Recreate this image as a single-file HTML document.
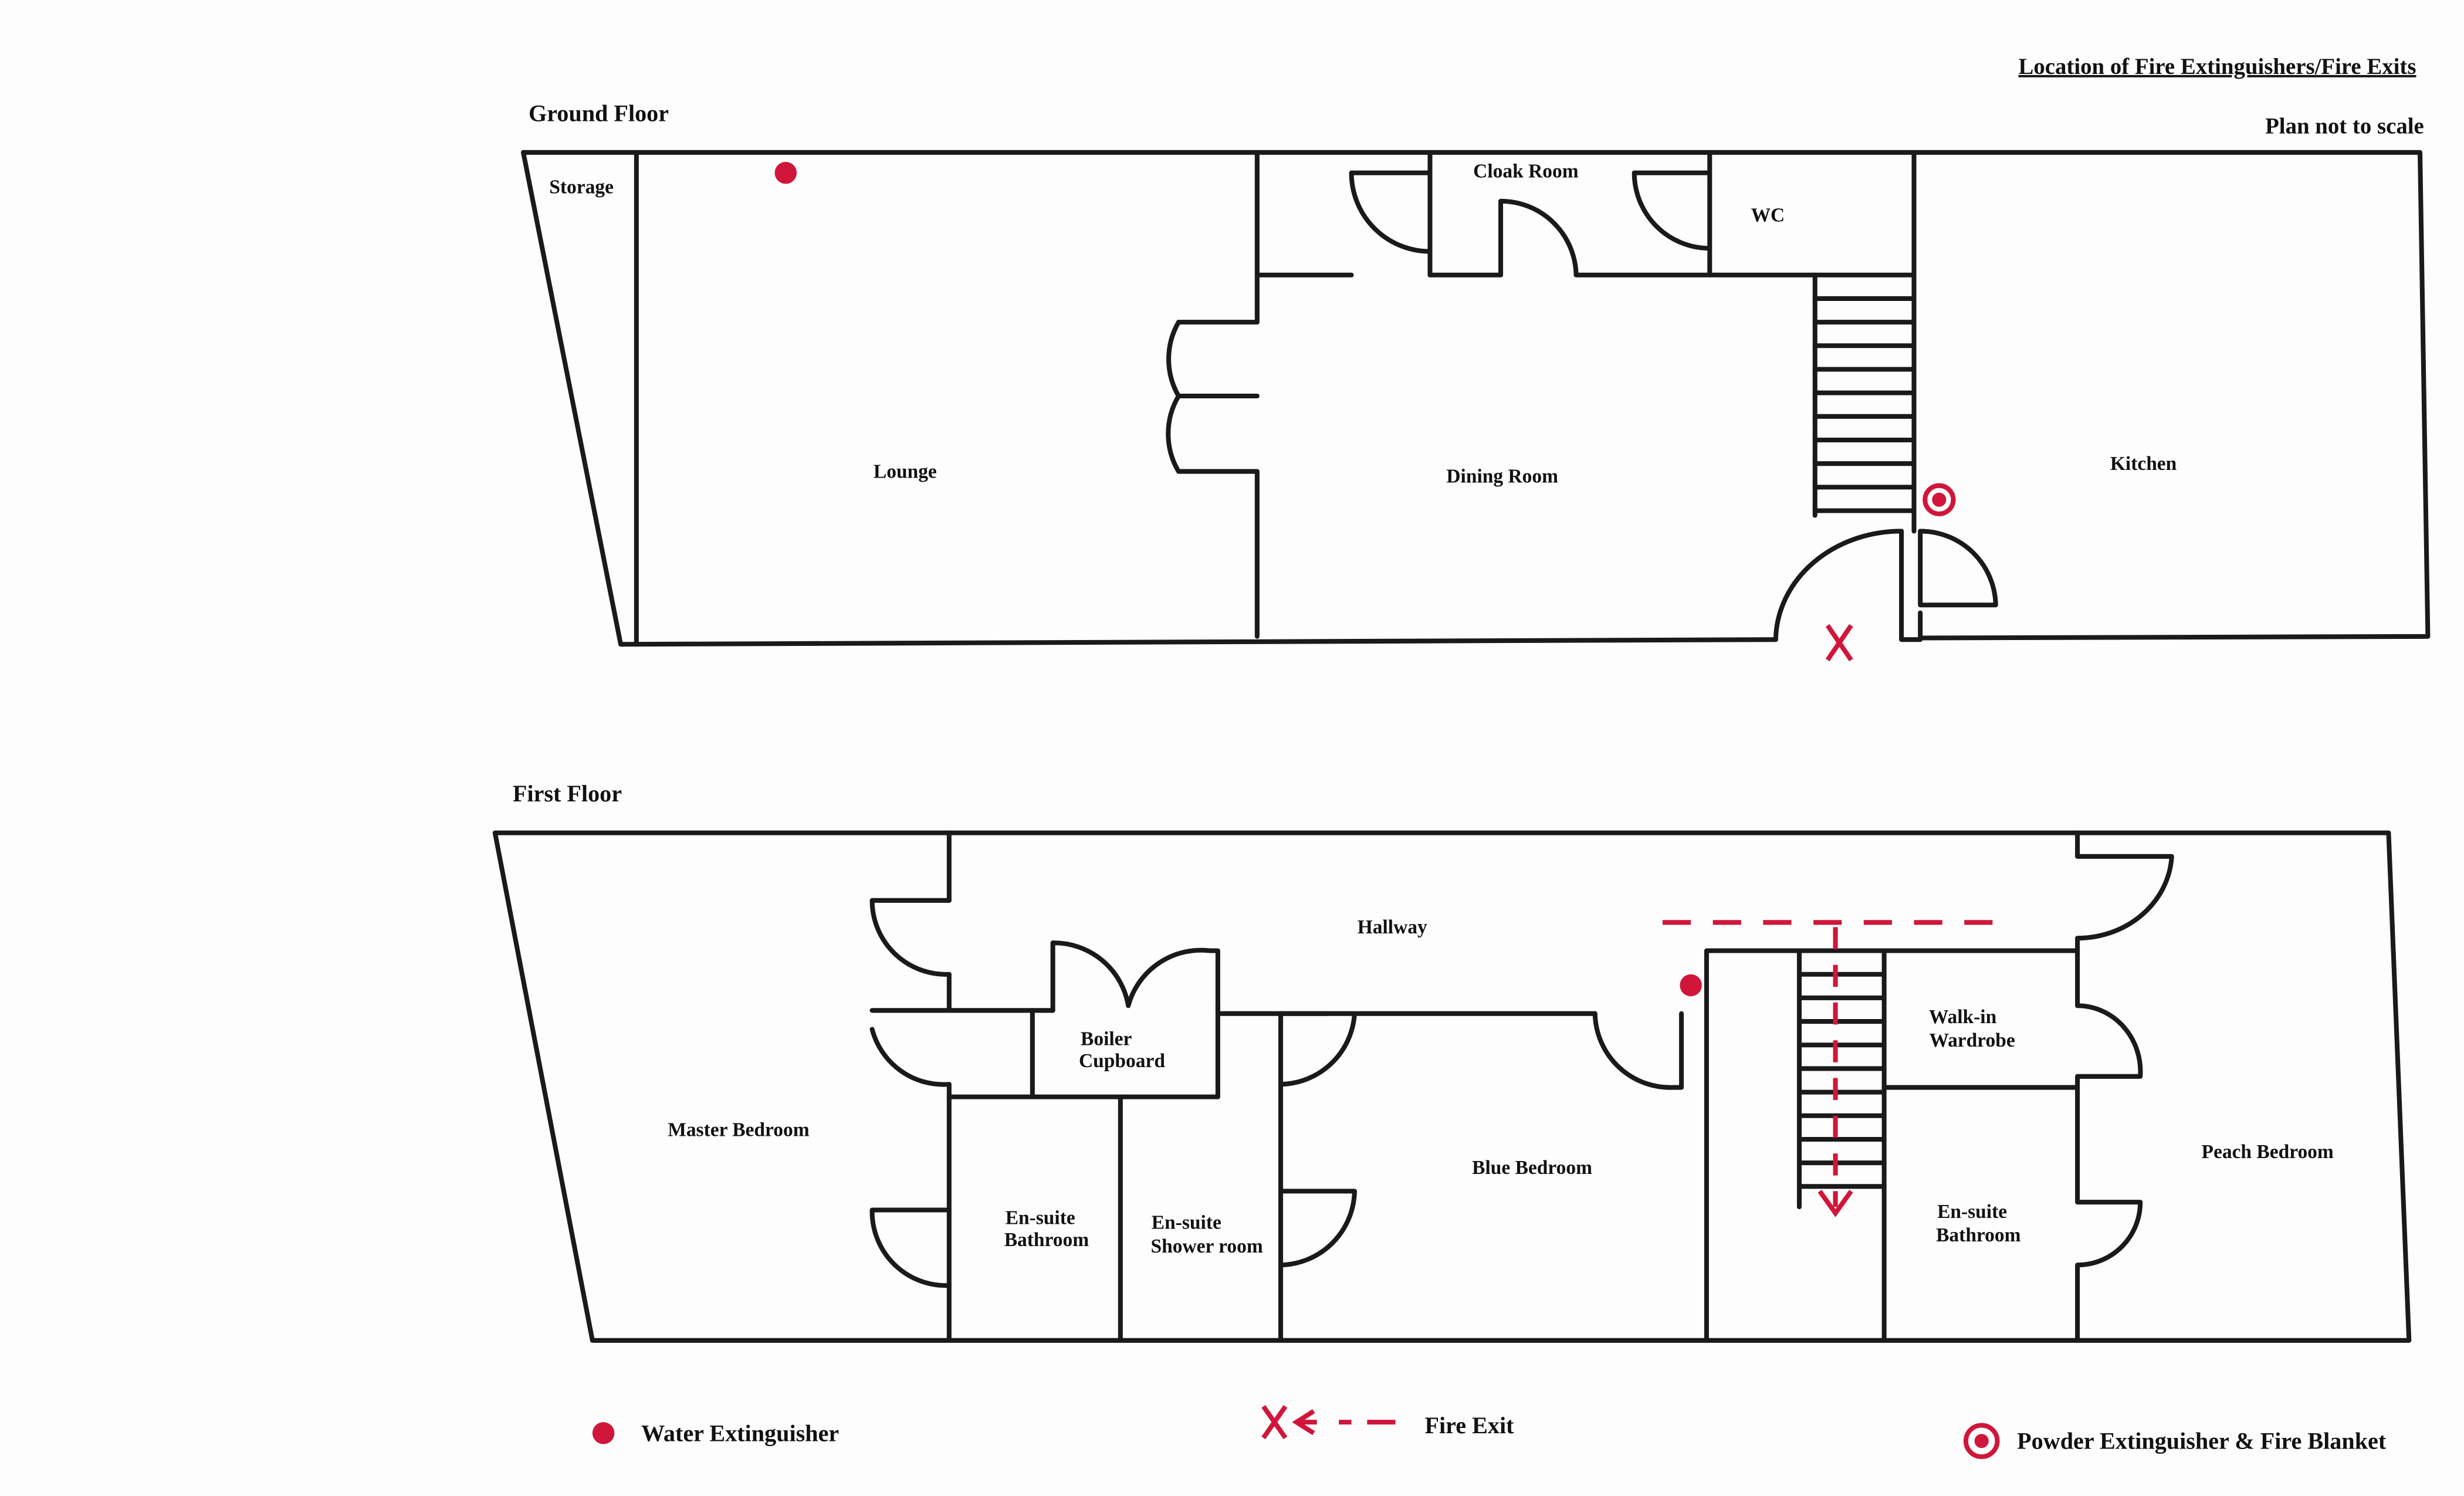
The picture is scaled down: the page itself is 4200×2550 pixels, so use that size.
<!DOCTYPE html>
<html><head><style>html,body{margin:0;padding:0;background:#fff}svg{display:block}</style></head>
<body>
<svg width="4200" height="2550" viewBox="0 0 1568 952" xmlns="http://www.w3.org/2000/svg">
<rect width="1568" height="952" fill="#fdfdfd"/>
<g fill="none" stroke="#1a1a1a" stroke-width="3" stroke-linecap="round" stroke-linejoin="round">
<!-- Ground floor -->
<path d="M333,97 L1540,97 L1545,405 L1222,406 L1222,390"/>
<path d="M333,97 L395,410 L1130,407"/>
<path d="M405,97 L405,410"/>
<path d="M800,97 L800,205 M800,300 L800,405"/>
<path d="M800,205 L750,205 M800,252 L750,252 M800,300 L750,300"/>
<path d="M750,205 A47,47 0 0 0 750,252 M750,252 A47,47 0 0 0 750,300"/>
<path d="M800,175 L860,175 M910,175 L955,175 M1003,175 L1218,175"/>
<path d="M910,97 L910,175 M860,110 L910,110 M860,110 A50,50 0 0 0 910,160"/>
<path d="M955,128 L955,175 M955,128 A48,48 0 0 1 1003,175"/>
<path d="M1088,97 L1088,175 M1040,110 L1088,110 M1040,110 A48,48 0 0 0 1088,158"/>
<path d="M1218,97 L1218,175"/>
<!-- stairs -->
<path d="M1155,175 L1155,328 M1218,175 L1218,338"/>
<path d="M1155,190 L1218,190 M1155,205 L1218,205 M1155,220 L1218,220 M1155,235 L1218,235 M1155,250 L1218,250 M1155,265 L1218,265 M1155,280 L1218,280 M1155,295 L1218,295 M1155,310 L1218,310 M1155,325 L1218,325"/>
<path d="M1130,407 A80,70 0 0 1 1210,338 L1210,407 L1222,407"/>
<path d="M1222,338 L1222,385 M1222,338 A48,48 0 0 1 1270,385 L1222,385"/>
<!-- First floor -->
<path d="M315,530 L1520,530 L1533,853 L377,853 Z"/>
<path d="M604,530 L604,573 M604,620 L604,643 M604,690 L604,853"/>
<path d="M604,573 L555,573 L555,573 A47,47 0 0 0 604,620"/>
<path d="M604,643 L555,643 M555,655 A47,47 0 0 0 604,690"/>
<path d="M604,643 L670,643 M604,698 L775,698 M775,645 L845,645"/>
<path d="M657,643 L657,698 M775,640 L775,698 M713,698 L713,853"/>
<path d="M670,643 L670,600 A48,48 0 0 1 718,640 M718,640 A48,48 0 0 1 770,605 L775,605 L775,643 M670,600 L670,643"/>
<path d="M815,698 L815,853 M815,645 L815,698 M815,690 A48,48 0 0 0 862,645 L815,645 M845,645 L1015,645"/>
<path d="M815,758 L862,758 A48,48 0 0 1 815,805"/>
<path d="M604,770 L555,770 A47,47 0 0 0 604,818"/>
<path d="M1015,645 A48,48 0 0 0 1065,692 L1070,692 L1070,645"/>
<path d="M1086,605 L1086,853 M1086,605 L1322,605"/>
<path d="M1145,605 L1145,768 M1199,605 L1199,853"/>
<path d="M1145,620 L1199,620 M1145,635 L1199,635 M1145,650 L1199,650 M1145,665 L1199,665 M1145,680 L1199,680 M1145,695 L1199,695 M1145,710 L1199,710 M1145,725 L1199,725 M1145,740 L1199,740 M1145,755 L1199,755"/>
<path d="M1199,692 L1322,692"/>
<path d="M1322,530 L1322,545 L1382,545 A60,55 0 0 1 1322,597 L1322,640 A40,42 0 0 1 1362,685 L1322,685 L1322,765 L1362,765 A40,40 0 0 1 1322,805 L1322,853"/>
</g>
<!-- red markers -->
<g fill="#d0163a" stroke="none">
<circle cx="500" cy="110" r="7"/>
<circle cx="1076" cy="627" r="7"/>
<circle cx="384" cy="912" r="7"/>
</g>
<g fill="none" stroke="#d0163a" stroke-width="3">
<circle cx="1234" cy="318" r="9"/><circle cx="1234" cy="318" r="3" fill="#d0163a"/>
<circle cx="1261" cy="917" r="10"/><circle cx="1261" cy="917" r="3" fill="#d0163a"/>
<path d="M1163,398 L1178,420 M1178,398 L1163,420"/>
<path d="M1058,587 L1275,587" stroke-dasharray="18,14"/>
<path d="M1168,590 L1168,768" stroke-dasharray="14,10"/>
<path d="M1158,758 L1168,772 L1178,758"/>
<path d="M804,895 L818,915 M818,895 L804,915"/>
<path d="M836,898 L825,905 L836,912 M825,905 L888,905"/>
</g>
<rect x="838" y="900" width="14" height="10" fill="#fdfdfd"/><rect x="860" y="900" width="10" height="10" fill="#fdfdfd"/>
<g font-family="Liberation Serif, serif" fill="#111" font-size="12.5" text-anchor="middle" font-weight="bold" stroke="#fdfdfd" stroke-width="0">
<text x="1411" y="47" font-size="14.5" text-decoration="underline">Location of Fire Extinguishers/Fire Exits</text>
<text x="1492" y="85" font-size="14.5">Plan not to scale</text>
<text x="381" y="77" font-size="15">Ground Floor</text>
<text x="361" y="510" font-size="15">First Floor</text>
<text x="370" y="123">Storage</text>
<text x="576" y="304">Lounge</text>
<text x="956" y="307">Dining Room</text>
<text x="971" y="113">Cloak Room</text>
<text x="1125" y="141">WC</text>
<text x="1364" y="299">Kitchen</text>
<text x="886" y="594">Hallway</text>
<text x="704" y="665">Boiler</text><text x="714" y="679">Cupboard</text>
<text x="470" y="723">Master Bedroom</text>
<text x="662" y="779">En-suite</text><text x="666" y="793">Bathroom</text>
<text x="755" y="782">En-suite</text><text x="768" y="797">Shower room</text>
<text x="975" y="747">Blue Bedroom</text>
<text x="1249" y="651">Walk-in</text><text x="1255" y="666">Wardrobe</text>
<text x="1255" y="775">En-suite</text><text x="1259" y="790">Bathroom</text>
<text x="1443" y="737">Peach Bedroom</text>
<text x="471" y="917" font-size="15">Water Extinguisher</text>
<text x="935" y="912" font-size="15">Fire Exit</text>
<text x="1401" y="922" font-size="15">Powder Extinguisher &amp; Fire Blanket</text>
</g>
</svg>
</body></html>
